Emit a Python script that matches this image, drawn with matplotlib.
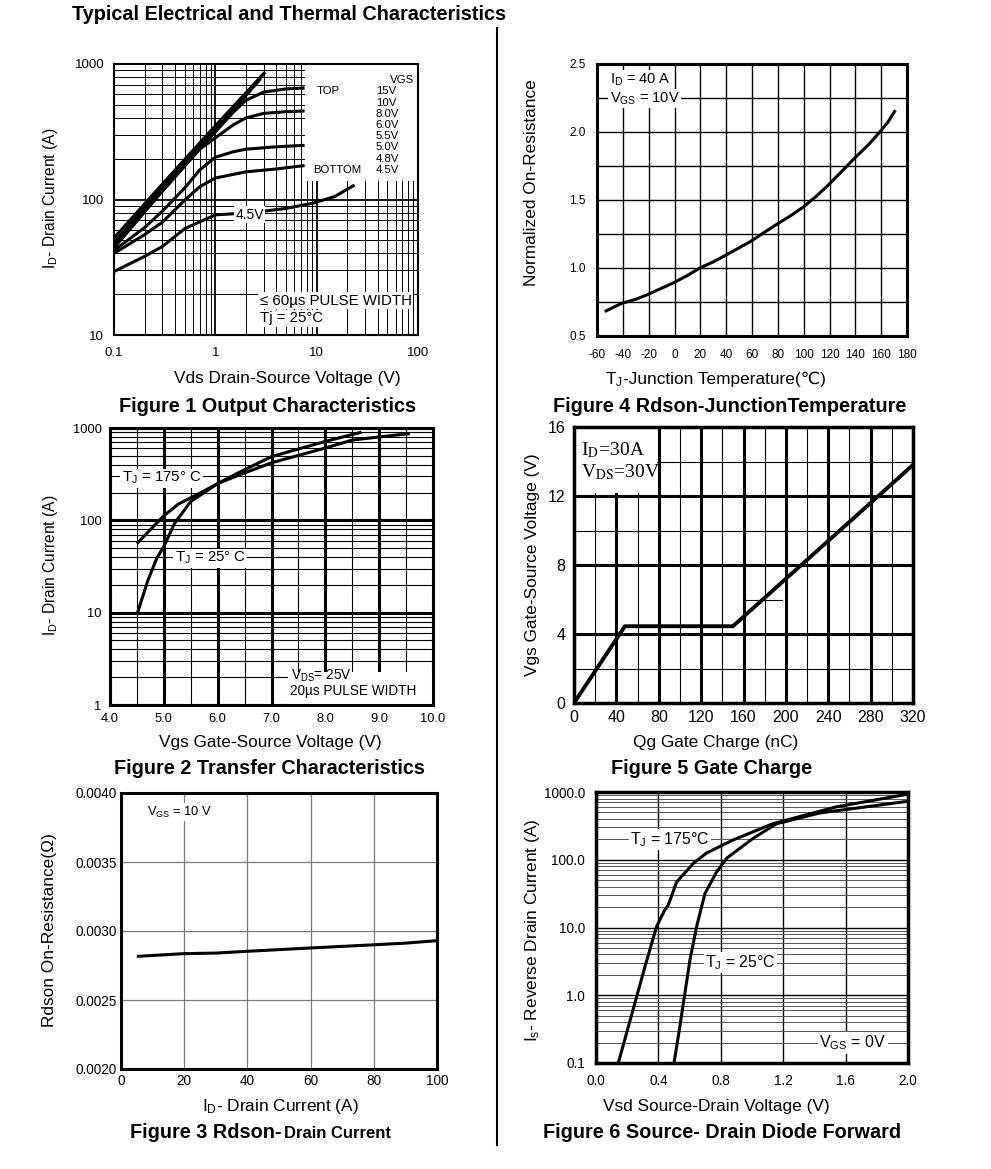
import matplotlib
matplotlib.use("Agg")
import matplotlib.pyplot as plt
from matplotlib.patches import Rectangle
from matplotlib.lines import Line2D
from matplotlib.ticker import NullFormatter

# ---- Figure 1 output characteristics (Vds, Id) per Vgs
f1_vds_15v = [0.1, 0.3, 1.0, 3.1]
f1_id_15v = [52, 130, 350, 870]
f1_vds_10v = [0.1, 0.3, 1.0, 3.0]
f1_id_10v = [48, 122, 335, 850]
f1_vds_8v = [0.1, 0.3, 1.0, 2.8]
f1_id_8v = [45, 116, 320, 780]
f1_vds_6v = [0.1, 0.3, 1.0, 1.5, 2.0, 3.0, 5.0, 7.6]
f1_id_6v = [46, 122, 315, 440, 540, 620, 655, 665]
f1_vds_55v = [0.1, 0.3, 0.7, 1.0, 1.5, 2.0, 3.0, 5.0, 7.6]
f1_id_55v = [44, 115, 235, 285, 355, 400, 432, 445, 450]
f1_vds_5v = [0.1, 0.2, 0.3, 0.5, 0.7, 1.0, 1.5, 2.0, 4.0, 7.6]
f1_id_5v = [42, 62, 82, 122, 165, 205, 225, 235, 245, 251]
f1_vds_48v = [0.1, 0.2, 0.3, 0.5, 0.7, 1.0, 2.0, 4.0, 7.6]
f1_id_48v = [40, 55, 68, 99, 124, 144, 160, 168, 178]
f1_vds_45v = [0.1, 0.2, 0.3, 0.5, 1.0, 2.3, 5.0, 9.2, 15, 23.7]
f1_id_45v = [29.4, 38, 45, 61, 77, 80, 86, 94, 105, 128]
f1_vgs_list = ['15V', '10V', '8.0V', '6.0V', '5.5V', '5.0V', '4.8V', '4.5V']

# ---- Figure 4 normalized Rdson vs Tj
f4_tj = [-54, -41, -30, -22, -1, 10, 19.6, 30, 40, 58, 70, 79, 90, 100, 110, 118,
         130, 138.6, 150, 159, 165, 171]
f4_rn = [0.68, 0.74, 0.77, 0.80, 0.89, 0.945, 1.0, 1.045, 1.096, 1.19, 1.265, 1.32,
         1.385, 1.45, 1.53, 1.60, 1.715, 1.80, 1.905, 2.0, 2.07, 2.16]

# ---- Figure 2 transfer characteristics
f2_vgs_25 = [4.5, 4.7, 4.87, 5.0, 5.2, 5.5, 6.0, 6.35, 7.0, 8.0, 8.67]
f2_id_25 = [9.5, 22, 39, 52, 93, 160, 250, 320, 490, 716, 900]
f2_vgs_175 = [4.5, 5.0, 5.27, 5.67, 6.0, 6.4, 7.0, 8.0, 8.5, 9.0, 9.57]
f2_id_175 = [56, 112, 150, 197, 250, 310, 420, 607, 740, 800, 870]

# ---- Figure 5 gate charge
f5_qg = [0, 48, 150, 320]
f5_vgs = [0, 4.45, 4.45, 13.8]

# ---- Figure 3 Rdson vs drain current
f3_id = [5, 20, 30, 40, 60, 80, 90, 100]
f3_rds = [0.002816, 0.002836, 0.00284, 0.002853, 0.002877, 0.0029, 0.002912, 0.00293]

# ---- Figure 6 body diode forward
f6_vsd_175 = [0.143, 0.196, 0.314, 0.388, 0.44, 0.463, 0.517, 0.623, 0.709, 0.879, 1.136, 1.54, 2.0]
f6_is_175 = [0.1, 0.277, 2.65, 10.3, 18, 21.4, 47, 88, 126, 196, 342, 603, 930]
f6_vsd_25 = [0.5, 0.538, 0.602, 0.645, 0.698, 0.773, 0.837, 1.007, 1.157, 1.434, 2.0]
f6_is_25 = [0.1, 0.35, 3.3, 10.3, 31.6, 66, 105, 207, 340, 490, 730]

plt.rcParams['font.family'] = ['Liberation Sans', 'DejaVu Sans']
plt.rcParams['mathtext.fontset'] = 'custom'
plt.rcParams['mathtext.rm'] = 'Liberation Sans'
plt.rcParams['mathtext.it'] = 'Liberation Sans'
plt.rcParams['mathtext.bf'] = 'Liberation Sans:bold'
plt.rcParams['axes.unicode_minus'] = False

W, H = 991, 1169
fig = plt.figure(figsize=(W / 100, H / 100), dpi=100)


def box(l, t, r, b):
    return [l / W, 1 - b / H, (r - l) / W, (b - t) / H]


def ftext(x, y, s, **kw):
    fig.text(x / W, 1 - y / H, s, **kw)


def frame(ax, lw):
    for sp in ax.spines.values():
        sp.set_linewidth(lw)
        sp.set_zorder(5)


white = dict(facecolor='white', edgecolor='none', pad=1)
curve = dict(color='black', lw=2.2, solid_capstyle='butt')
TITLE = 14.3
LABEL = 12.4

# title + divider
ftext(72, 15, 'Typical Electrical and Thermal Characteristics', fontsize=TITLE,
      fontweight='bold', va='center')
fig.add_artist(Line2D([497 / W, 497 / W], [1 - 28 / H, 1 - 1145 / H], color='black', lw=1.5))

# ================= Figure 1
ax = fig.add_axes(box(114, 64, 418, 335))
ax.set_xscale('log')
ax.set_yscale('log')
ax.set_xlim(0.1, 100)
ax.set_ylim(10, 1000)
ax.set_axisbelow(True)
ax.grid(which='major', color='black', lw=1.3)
ax.grid(which='minor', color='black', lw=0.7)
ax.set_xticks([0.1, 1, 10, 100], ['0.1', '1', '10', '100'])
ax.set_yticks([10, 100, 1000], ['10', '100', '1000'])
ax.xaxis.set_minor_formatter(NullFormatter())
ax.yaxis.set_minor_formatter(NullFormatter())
ax.tick_params(which='both', length=0, labelsize=9.5)
ax.tick_params(axis='x', pad=9)
ax.tick_params(axis='y', pad=7)
frame(ax, 1.5)
ax.add_patch(Rectangle((7.6, 136), 100 - 7.6, 1000 - 136, facecolor='white', edgecolor='none', zorder=1))
for xs, ys in [(f1_vds_15v, f1_id_15v), (f1_vds_10v, f1_id_10v), (f1_vds_8v, f1_id_8v),
               (f1_vds_6v, f1_id_6v), (f1_vds_55v, f1_id_55v), (f1_vds_5v, f1_id_5v),
               (f1_vds_48v, f1_id_48v), (f1_vds_45v, f1_id_45v)]:
    ax.plot(xs, ys, zorder=2, **curve)
ax.text(0.907, 0.942, 'VGS', transform=ax.transAxes, fontsize=8.2, va='center')
for i, v in enumerate(f1_vgs_list):
    ax.text(0.861, 0.899 - i * 0.0413, v, transform=ax.transAxes, fontsize=8.2, va='center')
ax.text(0.666, 0.899, 'TOP', transform=ax.transAxes, fontsize=8.2, va='center')
ax.text(0.655, 0.610, 'BOTTOM', transform=ax.transAxes, fontsize=8.2, va='center')
ax.text(1.57, 77, '4.5V', fontsize=10, va='center', bbox=white, zorder=3)
ax.text(0.479, 0.127, '\u2264 60\u00b5s PULSE WIDTH', transform=ax.transAxes, fontsize=10.8,
        va='center', bbox=white, zorder=3)
ax.text(0.479, 0.062, 'Tj = 25\u00b0C', transform=ax.transAxes, fontsize=10.8,
        va='center', bbox=white, zorder=3)
ftext(50, 198, r'I$_\mathrm{D}$- Drain Current (A)', rotation=90, fontsize=11.2, ha='center', va='center')
ftext(287, 379, 'Vds Drain-Source Voltage (V)', fontsize=LABEL, ha='center', va='center')
ftext(268, 406, 'Figure 1 Output Characteristics', fontsize=TITLE, fontweight='bold', ha='center', va='center')

# ================= Figure 4
ax = fig.add_axes(box(597, 64, 907, 336))
ax.set_xlim(-60, 180)
ax.set_ylim(0.5, 2.5)
ax.set_axisbelow(True)
ax.set_xticks(range(-60, 181, 20))
ax.set_yticks([0.5, 1.0, 1.5, 2.0, 2.5], ['0.5', '1.0', '1.5', '2.0', '2.5'])
ax.set_yticks([0.75, 1.25, 1.75, 2.25], minor=True)
ax.grid(which='both', color='black', lw=1.0)
ax.tick_params(which='both', length=0, labelsize=8.5)
ax.tick_params(axis='x', pad=9)
ax.tick_params(axis='y', pad=8)
frame(ax, 2.2)
ax.plot(f4_tj, f4_rn, zorder=2, **curve)
ax.text(0.041, 0.942, r'I$_\mathrm{D}$ = 40 A', transform=ax.transAxes, fontsize=10.5, va='center',
        bbox=white, zorder=3)
ax.text(0.041, 0.873, r'V$_\mathrm{GS}$ = 10V', transform=ax.transAxes, fontsize=10.5, va='center',
        bbox=white, zorder=3)
ftext(532, 183, 'Normalized On-Resistance', rotation=90, fontsize=LABEL, ha='center', va='center')
ftext(623, 384, r'T$_\mathrm{J}$', fontsize=LABEL, ha='right', va='baseline')
ftext(623, 384, '-Junction Temperature(\u2103)', fontsize=LABEL, ha='left', va='baseline')
ftext(730, 406, 'Figure 4 Rdson-JunctionTemperature', fontsize=TITLE, fontweight='bold', ha='center', va='center')

# ================= Figure 2
ax = fig.add_axes(box(110, 428, 433, 705))
ax.set_yscale('log')
ax.set_xlim(4, 10)
ax.set_ylim(1, 1000)
ax.set_axisbelow(True)
ax.set_xticks([4, 5, 6, 7, 8, 9, 10], ['4.0', '5.0', '6.0', '7.0', '8.0', '9.0', '10.0'])
ax.set_xticks([4.5, 5.5, 6.5, 7.5, 8.5, 9.5], minor=True)
ax.set_yticks([1, 10, 100, 1000], ['1', '10', '100', '1000'])
ax.yaxis.set_minor_formatter(NullFormatter())
ax.grid(which='major', color='black', lw=2.2)
ax.grid(which='minor', color='black', lw=0.8)
ax.tick_params(which='both', length=0, labelsize=9.3)
ax.tick_params(axis='x', pad=6)
ax.tick_params(axis='y', pad=6)
frame(ax, 2.2)
ax.add_patch(Rectangle((7.3, 1), 10 - 7.3, 1.25, facecolor='white', edgecolor='none', zorder=1))
ax.plot(f2_vgs_25, f2_id_25, zorder=2, **curve)
ax.plot(f2_vgs_175, f2_id_175, zorder=2, **curve)
ax.text(4.22, 287, r'T$_\mathrm{J}$ = 175$\degree$ C', fontsize=10.8, va='center', bbox=white, zorder=3)
ax.text(5.2, 39, r'T$_\mathrm{J}$ = 25$\degree$ C', fontsize=10.8, va='center', bbox=white, zorder=3)
ax.text(7.37, 2.05, r'V$_\mathrm{DS}$= 25V', fontsize=9.8, va='center', zorder=3)
ax.text(7.34, 1.42, '20\u00b5s PULSE WIDTH', fontsize=9.8, va='center', zorder=3)
ftext(50, 565, r'I$_\mathrm{D}$- Drain Current (A)', rotation=90, fontsize=11.2, ha='center', va='center')
ftext(270, 742, 'Vgs Gate-Source Voltage (V)', fontsize=LABEL, ha='center', va='center')
ftext(270, 768, 'Figure 2 Transfer Characteristics', fontsize=TITLE, fontweight='bold', ha='center', va='center')

# ================= Figure 5
ax = fig.add_axes(box(574, 427, 913, 703))
ax.set_xlim(0, 320)
ax.set_ylim(0, 16)
ax.set_axisbelow(True)
ax.set_xticks(range(0, 321, 40))
ax.set_xticks(range(20, 320, 40), minor=True)
ax.set_yticks(range(0, 17, 4))
ax.set_yticks([2, 10, 14], minor=True)
ax.grid(which='major', color='black', lw=2.2)
ax.grid(which='minor', color='black', lw=0.8)
ax.axhline(6, xmin=0.5, xmax=0.6125, color='black', lw=0.8, zorder=0.5)
ax.tick_params(which='both', length=0, labelsize=11.5)
ax.tick_params(axis='x', pad=5)
ax.tick_params(axis='y', pad=6)
frame(ax, 2.5)
ax.add_patch(Rectangle((0, 12.15), 78, 3.85, facecolor='white', edgecolor='none', zorder=1))
ax.plot(f5_qg, f5_vgs, color='black', lw=2.8, zorder=2)
ax.text(0.02, 0.915, r'I$_\mathrm{D}$=30A', transform=ax.transAxes, fontsize=14, va='center',
        family='Liberation Serif', math_fontfamily='stix', zorder=3)
ax.text(0.02, 0.835, r'V$_\mathrm{DS}$=30V', transform=ax.transAxes, fontsize=14, va='center',
        family='Liberation Serif', math_fontfamily='stix', zorder=3)
ftext(532, 565, 'Vgs Gate-Source Voltage (V)', rotation=90, fontsize=LABEL, ha='center', va='center')
ftext(716, 742, 'Qg Gate Charge (nC)', fontsize=LABEL, ha='center', va='center')
ftext(712, 768, 'Figure 5 Gate Charge', fontsize=TITLE, fontweight='bold', ha='center', va='center')

# ================= Figure 3
ax = fig.add_axes(box(121, 793, 437, 1069))
ax.set_xlim(0, 100)
ax.set_ylim(0.002, 0.004)
ax.set_axisbelow(True)
ax.set_xticks(range(0, 101, 20))
ax.set_yticks([0.002, 0.0025, 0.003, 0.0035, 0.004], ['0.0020', '0.0025', '0.0030', '0.0035', '0.0040'])
ax.grid(which='major', color='#7a7a7a', lw=0.9)
ax.tick_params(which='both', length=0, labelsize=9.8)
ax.tick_params(axis='x', pad=3.5)
ax.tick_params(axis='y', pad=3)
frame(ax, 2.2)
ax.plot(f3_id, f3_rds, zorder=2, **curve)
ax.text(0.081, 0.93, r'V$_\mathrm{GS}$ = 10 V', transform=ax.transAxes, fontsize=9.3, va='center',
        bbox=white, zorder=3)
ftext(50, 930, 'Rdson On-Resistance(\u03a9)', rotation=90, fontsize=LABEL, ha='center', va='center')
ftext(280, 1106, r'I$_\mathrm{D}$- Drain Current (A)', fontsize=LABEL, ha='center', va='center')
ftext(130, 1133, 'Figure 3 Rdson-', fontsize=TITLE, fontweight='bold', va='center')
ftext(284, 1134, 'Drain Current', fontsize=12, fontweight='bold', va='center')

# ================= Figure 6
ax = fig.add_axes(box(596, 792, 908, 1063))
ax.set_yscale('log')
ax.set_xlim(0, 2.0)
ax.set_ylim(0.1, 1000)
ax.set_axisbelow(True)
ax.set_xticks([0, 0.4, 0.8, 1.2, 1.6, 2.0], ['0.0', '0.4', '0.8', '1.2', '1.6', '2.0'])
ax.set_yticks([0.1, 1, 10, 100, 1000], ['0.1', '1.0', '10.0', '100.0', '1000.0'])
ax.yaxis.set_minor_formatter(NullFormatter())
ax.grid(which='major', color='black', lw=1.0)
ax.grid(which='minor', axis='y', color='#555555', lw=0.7)
ax.tick_params(which='both', length=0, labelsize=9.8)
ax.tick_params(axis='x', pad=8)
ax.tick_params(axis='y', pad=8)
frame(ax, 2.5)
ax.plot(f6_vsd_175, f6_is_175, zorder=2, **curve)
ax.plot(f6_vsd_25, f6_is_25, zorder=2, **curve)
ax.text(0.22, 199, r'T$_\mathrm{J}$ = 175°C', fontsize=11.4, va='center', bbox=white, zorder=3)
ax.text(0.70, 3.03, r'T$_\mathrm{J}$ = 25°C', fontsize=11.4, va='center', bbox=white, zorder=3)
ax.text(1.43, 0.197, r'V$_\mathrm{GS}$ = 0V', fontsize=11.5, va='center', bbox=white, zorder=3)
ftext(532, 930, r'I$_\mathrm{s}$- Reverse Drain Current (A)', rotation=90, fontsize=LABEL, ha='center', va='center')
ftext(716, 1106, 'Vsd Source-Drain Voltage (V)', fontsize=LABEL, ha='center', va='center')
ftext(722, 1133, 'Figure 6 Source- Drain Diode Forward', fontsize=TITLE, fontweight='bold', ha='center', va='center')

fig.savefig('out.png', dpi=100)
